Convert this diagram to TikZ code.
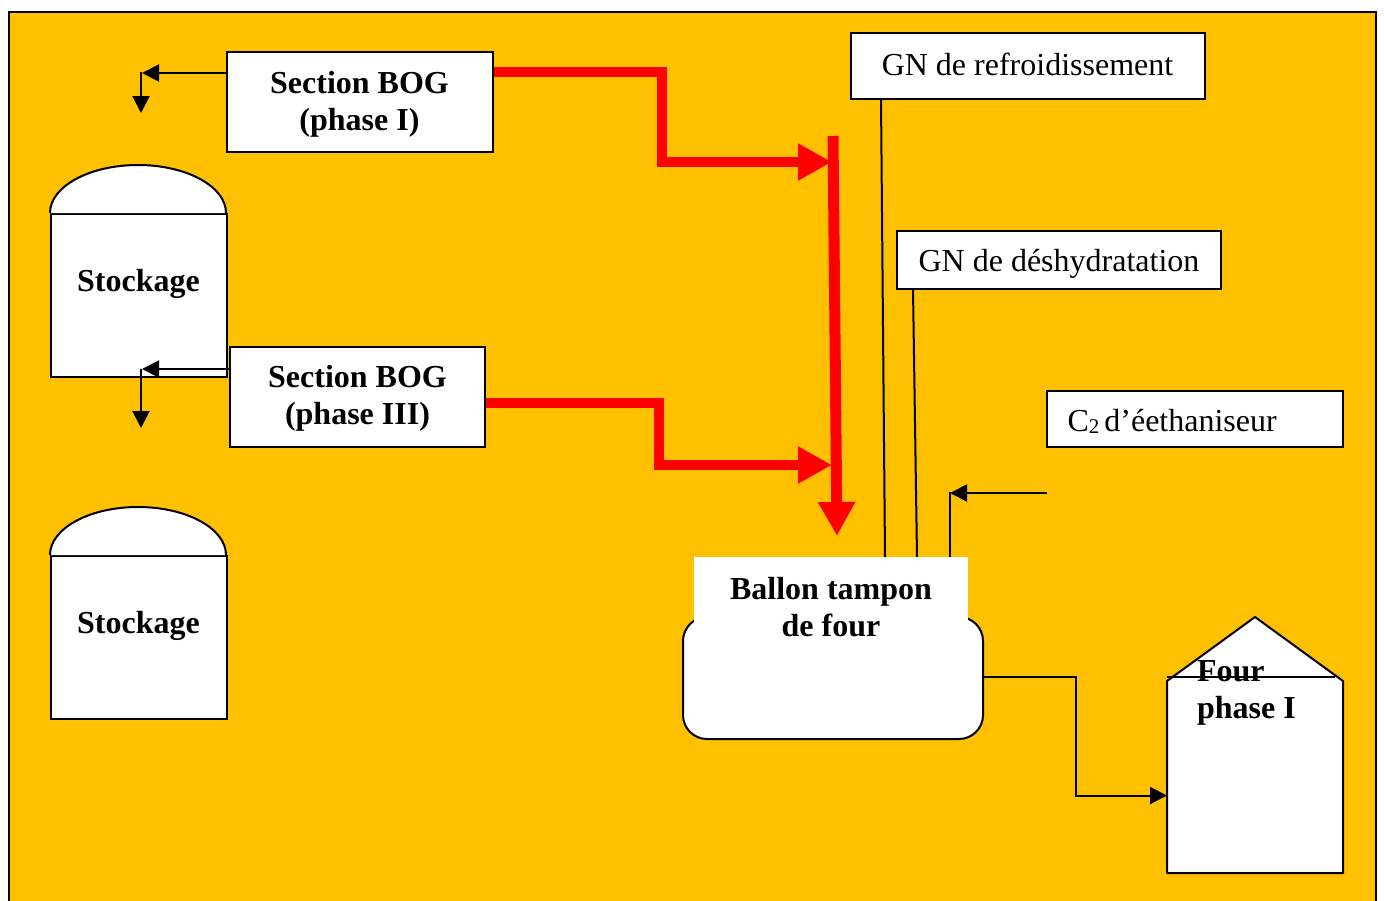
\documentclass[tikz,border=0pt]{standalone}
\usepackage{fontspec}
\setmainfont{Liberation Serif}
\usetikzlibrary{arrows.meta}
\usetikzlibrary{calc}
\definecolor{fond}{HTML}{FFC000}
\tikzset{l/.style={font=\fontsize{32}{37}\selectfont\bfseries,align=center}}
\tikzset{m/.style={font=\fontsize{32}{37}\selectfont}}
\tikzset{bx/.style={draw=black,fill=white,line width=2pt,inner sep=0pt}}
\tikzset{fl/.style={black,line width=2pt,-{Triangle[length=17pt,width=17pt]}}}
\tikzset{tr/.style={black,line width=2pt}}
\tikzset{rg/.style={red,line width=10pt,miter limit=10,-{Triangle[length=34pt,width=35pt]}}}

\begin{document}
\begin{tikzpicture}[x=1pt,y=-1pt]
        \useasboundingbox (0,0) rectangle (1384,900);
        \filldraw[black,fill=fond,line width=2pt](9,12) rectangle (1376,930);
        \node[bx,minimum width=176pt,minimum height=163pt] (TA) at (139,295.5) {};
        \draw[bx] (TA.north west) arc[start angle=180,end angle=0,x radius=88pt,y radius=48pt];
        \node[l] (TAt) at (138.5,284) {Stockage};
        \node[bx,minimum width=176pt,minimum height=163pt] (TB) at (139,637.5) {};
        \draw[bx] (TB.north west) arc[start angle=180,end angle=0,x radius=88pt,y radius=48pt];
        \node[l] (TBt) at (138.5,626) {Stockage};
        \begin{scope}
          \node[bx,minimum width=266pt,minimum height=100pt] (SI) at (360,102) {};
          \node[l] (SIt) at (359.5,104) {Section BOG\\(phase I)};
          \node[bx,minimum width=255pt,minimum height=100pt] (SIII) at (357.5,397) {};
          \node[l] (SIIIt) at (357.5,398) {Section BOG\\(phase III)};
          \node[bx,minimum width=354pt,minimum height=66pt] (GR) at (1028,66) {};
          \node[m] (GRt) at (1027.5,64) {GN de refroidissement};
          \node[bx,minimum width=324pt,minimum height=58pt] (GD) at (1059,260) {};
          \node[m] (GDt) at (1059,264) {GN de déshydratation};
          \node[bx,minimum width=296pt,minimum height=56pt] (CE) at (1195,419) {};
          \node[m,anchor=west] (CEt) at (1064,421) {C{\fontsize{21}{21}\selectfont\raisebox{-2pt}{2}}\hspace{5pt}d’éethaniseur};
        \end{scope}
        \node[bx,rounded corners=24pt,minimum width=300pt,minimum height=122pt] (BT) at (833,678) {};
        \node[fill=white,minimum width=274pt,minimum height=83pt,inner sep=0pt] (BH) at (831,598.5) {};
        \node[l] (BHt) at (831,607) {Ballon tampon\\de four};
        \draw[bx,line join=round] (1167,873) -- (1167,681) -- (1255,617) -- (1343,681) -- (1343,873) -- cycle;
        \draw[tr,line width=1.5pt] (1167,677) -- (1335,677);
        \node[l,align=left,anchor=west] (FO) at (1193.5,692.5) {Four\\phase I};
        \coordinate (a1) at (142,73);
        \coordinate (a2) at (141,113);
        \coordinate (b1) at (142,369);
        \coordinate (b2) at (141,428);
        \coordinate (c1) at (950,493);
        \coordinate (c2) at (1047,493);
        \draw[fl] (SI.west |- a1) -- (a1);
        \draw[fl] (141,72) -- (a2);
        \draw[fl] (SIII.west |- b1) -- (b1);
        \draw[fl] (141,369) -- (b2);
        \draw[tr] (881,99) -- (885,557);
        \draw[tr] (913,289) -- (917,557);
        \draw[tr] (950,557) -- (950,492);
        \draw[fl] (c2) -- (c1);
        \draw[fl] (BT.east |- 0,677) -- (1076,677) -- (1076,795.5) -- (1167,795.5);
        \draw[rg] (SI.east |- 0,72) -- (662,72) -- (662,162) -- (832,162);
        \draw[rg] (SIII.east |- 0,403) -- (659,403) -- (659,465) -- (832,465);
        \draw[rg,line width=11pt] (833,136) -- (837,536);
      \end{tikzpicture}
\end{document}
